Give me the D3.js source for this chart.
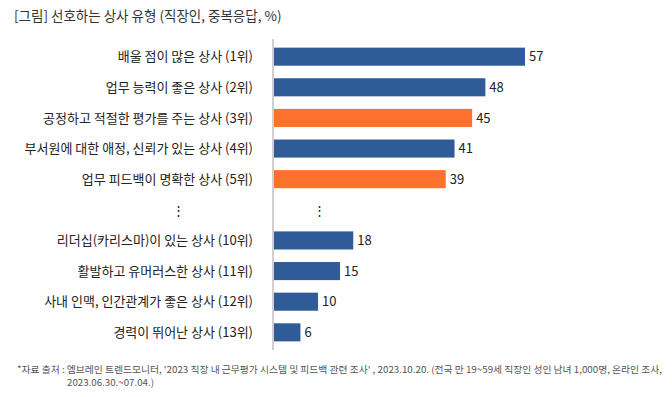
<!DOCTYPE html>
<html>
<head>
<meta charset="utf-8">
<script src="https://cdn.jsdelivr.net/npm/d3@7"></script>
<style>
  body { margin: 0; background: #fff; }
  svg { font-family: "Noto Sans CJK KR", "Noto Sans", sans-serif; }
</style>
</head>
<body>
<svg id="chart"></svg>
<script>
let labels = [
  "배울 점이 많은 상사 (1위)",
  "업무 능력이 좋은 상사 (2위)",
  "공정하고 적절한 평가를 주는 상사 (3위)",
  "부서원에 대한 애정, 신뢰가 있는 상사 (4위)",
  "업무 피드백이 명확한 상사 (5위)",
  "⋮",
  "리더십(카리스마)이 있는 상사 (10위)",
  "활발하고 유머러스한 상사 (11위)",
  "사내 인맥, 인간관계가 좋은 상사 (12위)",
  "경력이 뛰어난 상사 (13위)"
]
let values = [57, 48, 45, 41, 39, null, 18, 15, 10, 6]
let highlight = [false, false, true, false, true, false, false, false, false, false]

let title = "[그림] 선호하는 상사 유형 (직장인, 중복응답, %)"
let notes = [
  "*자료 출처 : 엠브레인 트렌드모니터, '2023 직장 내 근무평가 시스템 및 피드백 관련 조사' , 2023.10.20. (전국 만 19~59세 직장인 성인 남녀 1,000명, 온라인 조사,",
  "2023.06.30.~07.04.)"
]

let rowsData = labels.map((label, i) => ({i: i, label: label, value: values[i], hl: highlight[i]}))

let
  width = 672,
  height = 397,
  x0 = 274

let svg = d3.select("#chart")
  .attr("width", width)
  .attr("height", height)

svg.append("text")
  .attr("x", 14)
  .attr("y", 21)
  .attr("font-size", 13.5)
  .attr("fill", "#333")
  .text(title)

let y = d3.scaleBand()
  .domain(d3.range(labels.length))
  .range([41.5, 347.5])
  .paddingInner(0.41)
  .paddingOuter(0.2)

let x = d3.scaleLinear()
  .domain([0, 57])
  .range([x0, 525])

let rows = svg.append("g")
  .selectAll("g")
  .data(rowsData).enter()
  .append("g")
  .attr("transform", d => `translate(0,${y(d.i) + y.bandwidth() / 2})`)

rows.append("text")
  .attr("x", d => d.value === null ? 178 : 253)
  .attr("text-anchor", d => d.value === null ? "middle" : "end")
  .attr("dy", "0.36em")
  .attr("font-size", 13)
  .attr("fill", "#222")
  .text(d => d.label)

rows.filter(d => d.value !== null)
  .append("rect")
  .attr("x", x0)
  .attr("y", -y.bandwidth() / 2)
  .attr("width", d => x(d.value) - x0)
  .attr("height", y.bandwidth())
  .attr("fill", d => d.hl ? "#fe712c" : "#2f5b98")

rows.append("text")
  .attr("x", d => d.value === null ? 319 : x(d.value) + 4)
  .attr("text-anchor", d => d.value === null ? "middle" : "start")
  .attr("dy", "0.36em")
  .attr("font-size", 13)
  .attr("fill", "#222")
  .text(d => d.value === null ? "⋮" : d.value)

svg.append("line")
  .attr("x1", 273)
  .attr("x2", 273)
  .attr("y1", 39)
  .attr("y2", 350)
  .attr("stroke", "#d0d0d0")
  .attr("stroke-width", 2)

svg.append("text")
  .attr("x", 17)
  .attr("y", 373)
  .attr("font-size", 9.5)
  .attr("fill", "#555")
  .attr("textLength", 645)
  .attr("lengthAdjust", "spacingAndGlyphs")
  .text(notes[0])

svg.append("text")
  .attr("x", 67)
  .attr("y", 386)
  .attr("font-size", 9.5)
  .attr("fill", "#555")
  .attr("textLength", 87)
  .attr("lengthAdjust", "spacingAndGlyphs")
  .text(notes[1])
</script>
</body>
</html>
